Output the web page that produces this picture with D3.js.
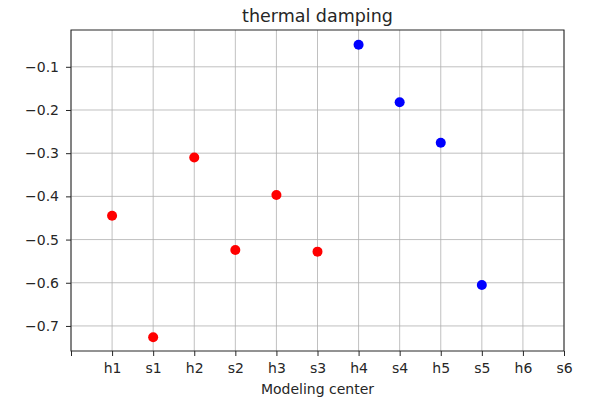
<!DOCTYPE html>
<html>
<head>
<meta charset="utf-8">
<script src="https://cdn.jsdelivr.net/npm/d3@7"></script>
<style>
  body { margin: 0; background: #fff; }
  text { font-family: "DejaVu Sans", sans-serif; fill: #262626; }
</style>
</head>
<body>
<div id="chart"></div>
<script>
// tick labels along the x axis (position 0 has no label)
const xLabels = ["", "h1", "s1", "h2", "s2", "h3", "s3", "h4", "s4", "h5", "s5", "h6", "s6"];
// red points
const redCenters = ["h1", "s1", "h2", "s2", "h3", "s3"];
const redValues = [-0.445, -0.726, -0.310, -0.524, -0.397, -0.528];
// blue points
const blueCenters = ["h4", "s4", "h5", "s5"];
const blueValues = [-0.049, -0.182, -0.276, -0.605];
const yTicks = [-0.1, -0.2, -0.3, -0.4, -0.5, -0.6, -0.7];

const width = 590;
const height = 418;
const marginTop = 30;
const marginRight = 26;
const marginBottom = 67;
const marginLeft = 71;

const x = d3.scaleLinear()
    .domain([0, xLabels.length - 1])
    .range([marginLeft, width - marginRight]);

const y = d3.scaleLinear()
    .domain([-0.758, -0.0148])
    .range([height - marginBottom, marginTop]);

const svg = d3.select("#chart")
  .append("svg")
    .attr("width", width)
    .attr("height", height)
    .attr("viewBox", [0, 0, width, height]);

// grid lines
svg.append("g")
    .selectAll("line")
    .data(d3.range(xLabels.length))
    .join("line")
      .attr("x1", d => x(d)).attr("x2", d => x(d))
      .attr("y1", marginTop).attr("y2", height - marginBottom)
      .attr("stroke", "#b0b0b0").attr("stroke-width", 0.8);

svg.append("g")
    .selectAll("line")
    .data(yTicks)
    .join("line")
      .attr("x1", marginLeft).attr("x2", width - marginRight)
      .attr("y1", d => y(d)).attr("y2", d => y(d))
      .attr("stroke", "#b0b0b0").attr("stroke-width", 0.8);

// x axis
svg.append("g")
    .attr("transform", `translate(0,${height - marginBottom})`)
    .call(d3.axisBottom(x)
        .tickValues(d3.range(xLabels.length))
        .tickFormat(i => xLabels[i])
        .tickSize(5).tickPadding(7).tickSizeOuter(0))
    .call(g => g.select(".domain").remove())
    .call(g => g.selectAll(".tick line").attr("stroke", "#262626").attr("stroke-width", 1))
    .call(g => g.selectAll(".tick text").attr("font-size", 14).attr("font-family", "DejaVu Sans"));

// y axis
svg.append("g")
    .attr("transform", `translate(${marginLeft},0)`)
    .call(d3.axisLeft(y)
        .tickValues(yTicks)
        .tickFormat(d => d3.format(".1f")(d).replace("-", "\u2212"))
        .tickSize(5).tickPadding(7).tickSizeOuter(0))
    .call(g => g.select(".domain").remove())
    .call(g => g.selectAll(".tick line").attr("stroke", "#262626").attr("stroke-width", 1))
    .call(g => g.selectAll(".tick text").attr("font-size", 14).attr("font-family", "DejaVu Sans"));

// frame
svg.append("rect")
    .attr("x", marginLeft).attr("y", marginTop)
    .attr("width", width - marginLeft - marginRight)
    .attr("height", height - marginTop - marginBottom)
    .attr("fill", "none").attr("stroke", "#262626").attr("stroke-width", 1);

// points
svg.append("g")
    .selectAll("circle")
    .data(redCenters.map((c, i) => ({c, v: redValues[i]})))
    .join("circle")
      .attr("cx", d => x(xLabels.indexOf(d.c)))
      .attr("cy", d => y(d.v))
      .attr("r", 5)
      .attr("fill", "#ff0000");

svg.append("g")
    .selectAll("circle")
    .data(blueCenters.map((c, i) => ({c, v: blueValues[i]})))
    .join("circle")
      .attr("cx", d => x(xLabels.indexOf(d.c)))
      .attr("cy", d => y(d.v))
      .attr("r", 5)
      .attr("fill", "#0000ff");

// title and label
svg.append("text")
    .attr("x", (marginLeft + width - marginRight) / 2)
    .attr("y", 22)
    .attr("text-anchor", "middle")
    .attr("font-size", 17.5)
    .text("thermal damping");

svg.append("text")
    .attr("x", (marginLeft + width - marginRight) / 2)
    .attr("y", 394)
    .attr("text-anchor", "middle")
    .attr("font-size", 14)
    .text("Modeling center");
</script>
</body>
</html>
